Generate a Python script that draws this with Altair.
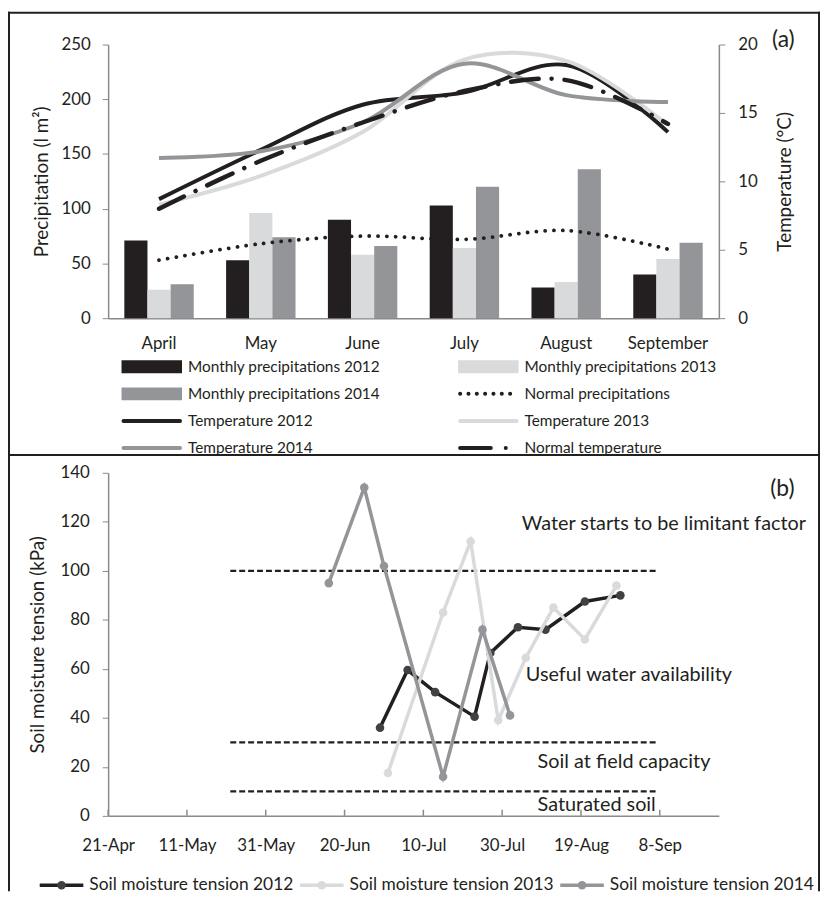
import altair as alt
import pandas as pd

# ---------------- panel (a) data ----------------
months = ["April", "May", "June", "July", "August", "September"]
precip_series = ["Monthly precipitations 2012", "Monthly precipitations 2013", "Monthly precipitations 2014"]
precip_2012 = [71, 53, 90, 103, 28, 40]
precip_2013 = [26, 96, 58, 64, 33, 54]
precip_2014 = [31, 74, 66, 120, 136, 69]
precip_normal = [53, 68, 75, 72, 80, 63]
temp_series = ["Temperature 2012", "Temperature 2013", "Temperature 2014"]
temp_2012 = [8.7, 12.3, 15.6, 16.5, 18.5, 13.6]
temp_2013 = [8.3, 10.4, 13.6, 18.9, 18.8, 14.1]
temp_2014 = [11.7, 12.2, 14.3, 18.6, 16.3, 15.8]
temp_normal = [8.0, 11.5, 14.3, 16.6, 17.4, 14.2]
precip_ticks = [0, 50, 100, 150, 200, 250]
temp_ticks = [0, 5, 10, 15, 20]

legend_a_labels = ["Monthly precipitations 2012", "Monthly precipitations 2013",
                   "Monthly precipitations 2014", "Normal precipitations",
                   "Temperature 2012", "Temperature 2013",
                   "Temperature 2014", "Normal temperature"]
legend_a_kinds = ["bar", "bar", "bar", "dot", "solid", "solid", "solid", "dashdot"]

# ---------------- panel (b) data ----------------
soil_series = ["Soil moisture tension 2012", "Soil moisture tension 2013", "Soil moisture tension 2014"]
soil_dates_2012 = ["2001-06-29", "2001-07-06", "2001-07-13", "2001-07-23", "2001-07-27",
                   "2001-08-03", "2001-08-10", "2001-08-20", "2001-08-29"]
soil_2012 = [36, 59.5, 50.5, 40.5, 66.5, 77, 76, 87.5, 90]
soil_dates_2013 = ["2001-07-01", "2001-07-15", "2001-07-22", "2001-07-29",
                   "2001-08-05", "2001-08-12", "2001-08-20", "2001-08-28"]
soil_2013 = [17.5, 83, 112, 39, 64.5, 85, 72, 94]
soil_dates_2014 = ["2001-06-16", "2001-06-25", "2001-06-30", "2001-07-15", "2001-07-25", "2001-08-01"]
soil_2014 = [95, 134, 102, 16, 76, 41]
thresholds = [100, 30, 10]
threshold_start = "2001-05-22"
threshold_end = "2001-09-07"
zone_labels = ["Water starts to be limitant factor", "Useful water availability",
               "Soil at field capacity", "Saturated soil"]
zone_dates = ["2001-08-04", "2001-08-05", "2001-08-08", "2001-08-08"]
zone_values = [119, 57.5, 22, 4.6]
date_ticks = ["2001-04-21", "2001-05-11", "2001-05-31", "2001-06-20",
              "2001-07-10", "2001-07-30", "2001-08-19", "2001-09-08"]
date_domain = ["2001-04-21", "2001-09-23"]
tension_ticks = [0, 20, 40, 60, 80, 100, 120, 140]

# ---------------- style ----------------
FONT = "Lato"
C_BLACK = "#231f20"
C_LIGHT = "#d9dadb"
C_MID = "#939598"
C_MARK12 = "#414042"
C_AXIS = "#8a8a8a"
TXT = "#231f20"
W = 616
HA = 276
HB = 346
LEG_A_H = 156
LEG_B_H = 72
FL, FR = -101, 718     # outer edges of the frame, relative to the plot area
LW = 2                 # frame line width


def dt(s):
    y, m, d = (int(v) for v in s.split("-"))
    return alt.DateTime(year=y, month=m, date=d, utc=True)


def frame_bar(x0, x1, y0, y1):
    return alt.Chart(pd.DataFrame({"frame": [1]})).mark_rect(color=C_BLACK).encode(
        x=alt.value(x0), x2=alt.value(x1), y=alt.value(y0), y2=alt.value(y1))


# ================= panel (a) =================
x_month = alt.X("month:N", sort=months, title=None,
                scale=alt.Scale(domain=months, paddingInner=0.318, paddingOuter=0.159),
                axis=alt.Axis(labelAngle=0, ticks=False, labelPadding=18, labelFontSize=17,
                              domainColor=C_AXIS, domainWidth=1.5))
y_precip = alt.Y("precip:Q", scale=alt.Scale(domain=[0, 250], nice=False),
                 axis=alt.Axis(values=precip_ticks, title="Precipitation (l m²)", orient="left",
                               tickSize=6, labelPadding=12, titlePadding=10, labelFontSize=17,
                               titleFontSize=19, domainColor=C_AXIS, tickColor=C_AXIS,
                               domainWidth=1.5))
y_temp = alt.Y("temp:Q", scale=alt.Scale(domain=[0, 20], nice=False),
               axis=alt.Axis(values=temp_ticks, title="Temperature (°C)", orient="right",
                             titleAngle=270, titleX=66, titleBaseline="middle",
                             tickSize=6, labelPadding=13,
                             labelFontSize=17, titleFontSize=19, domainColor=C_AXIS,
                             tickColor=C_AXIS, domainWidth=1.5))

bar_df = pd.DataFrame({
    "month": months * 3,
    "series": [s for s in precip_series for _ in months],
    "precip": precip_2012 + precip_2013 + precip_2014,
})
bars = alt.Chart(bar_df).mark_bar().encode(
    x=x_month,
    xOffset=alt.XOffset("series:N", sort=precip_series,
                        scale=alt.Scale(paddingInner=0, paddingOuter=0)),
    y=y_precip,
    color=alt.Color("series:N", scale=alt.Scale(domain=precip_series,
                                                range=[C_BLACK, C_LIGHT, C_MID]), legend=None),
)
pn = alt.Chart(pd.DataFrame({"month": months, "precip": precip_normal})).mark_line(
    interpolate="catmull-rom", color=C_BLACK, strokeWidth=3.8, strokeDash=[0.1, 8.8],
    strokeCap="round").encode(x=x_month, y=y_precip)
left = alt.layer(bars, pn)

t_df = pd.DataFrame({
    "month": months * 3,
    "series": [s for s in temp_series for _ in months],
    "temp": temp_2012 + temp_2013 + temp_2014,
})
tl = alt.Chart(t_df).mark_line(interpolate="catmull-rom", strokeWidth=4).encode(
    x=x_month, y=y_temp,
    color=alt.Color("series:N", scale=alt.Scale(domain=temp_series,
                                                range=[C_BLACK, C_LIGHT, C_MID]), legend=None),
)
tn = alt.Chart(pd.DataFrame({"month": months, "temp": temp_normal})).mark_line(
    interpolate="catmull-rom", color=C_BLACK, strokeWidth=4.5, strokeDash=[28, 13, 0.1, 13],
    strokeCap="round").encode(x=x_month, y=y_temp)
right = alt.layer(tl, tn)

tag_a = alt.Chart(pd.DataFrame({"tag": ["(a)"]})).mark_text(
    font=FONT, fontSize=23, color=TXT, align="center", baseline="middle").encode(
    x=alt.value(681), y=alt.value(-4), text="tag:N")

A_TOP = -33
A_BOT = HA + LEG_A_H - 19
frame_a = [
    frame_bar(FL, FR, A_TOP, A_TOP + LW),
    frame_bar(FL, FR, A_BOT, A_BOT + LW),
    frame_bar(FL, FL + LW, A_TOP, A_BOT + LW),
    frame_bar(FR - LW, FR, A_TOP, A_BOT + LW),
]

panel_a = alt.layer(left, right, tag_a, *frame_a).resolve_scale(
    y="independent", color="independent").properties(width=W, height=HA)

# ---------- legend (a) ----------
COL_A = 339.5
leg_a = pd.DataFrame({"label": legend_a_labels, "kind": legend_a_kinds})
leg_a["col"] = [i % 2 for i in range(len(leg_a))]
leg_a["row"] = [i // 2 for i in range(len(leg_a))]
leg_a["x0"] = leg_a["col"]
leg_a["x1"] = leg_a["col"] + 61 / COL_A
leg_a["xl0"] = leg_a["col"] + 2 / COL_A
leg_a["xl1"] = leg_a["col"] + 59 / COL_A
leg_a["xt"] = leg_a["col"] + 67 / COL_A
leg_colors = [C_BLACK, C_LIGHT, C_MID, C_BLACK, C_BLACK, C_LIGHT, C_MID, C_BLACK]
lx = alt.Scale(domain=[0, 1], range=[13.5, 13.5 + COL_A])
ly = alt.Scale(domain=[0, 3], range=[49, 131])
lcol = alt.Color("label:N", scale=alt.Scale(domain=legend_a_labels, range=leg_colors), legend=None)

leg_bar = alt.Chart(leg_a).transform_filter(alt.datum.kind == "bar").mark_rule(
    strokeWidth=13, strokeCap="butt").encode(
    x=alt.X("x0:Q", scale=lx, axis=None), x2="x1:Q",
    y=alt.Y("row:Q", scale=ly, axis=None), color=lcol)
leg_line = alt.Chart(leg_a).transform_filter(alt.datum.kind != "bar").mark_rule(
    strokeWidth=4, strokeCap="round").encode(
    x=alt.X("xl0:Q", scale=lx, axis=None), x2="xl1:Q",
    y=alt.Y("row:Q", scale=ly, axis=None), color=lcol,
    strokeDash=alt.StrokeDash("kind:N", scale=alt.Scale(
        domain=["dot", "solid", "dashdot"],
        range=[[0.1, 8.3], [1, 0], [31, 15, 0.1, 40]]), legend=None))
leg_text = alt.Chart(leg_a).mark_text(
    font=FONT, fontSize=15.5, color=TXT, align="left", baseline="middle").encode(
    x=alt.X("xt:Q", scale=lx, axis=None), y=alt.Y("row:Q", scale=ly, axis=None), text="label:N")
legend_a = alt.layer(leg_bar, leg_line, leg_text).properties(width=W, height=LEG_A_H)

# ================= panel (b) =================
x_date_scale = alt.Scale(type="utc", domain=[dt(date_domain[0]), dt(date_domain[1])])
x_axis_b = alt.Axis(values=[dt(d) for d in date_ticks], format="%-d-%b", ticks=False,
                    labelOverlap=False, labelFlush=False, labelPadding=22, labelFontSize=17,
                    grid=False, domainColor=C_AXIS, domainWidth=1.5)


def xd(field):
    return alt.X(field, title=None, scale=x_date_scale, axis=x_axis_b)


y_tension = alt.Y("tension:Q", scale=alt.Scale(domain=[0, 140], nice=False),
                  axis=alt.Axis(values=tension_ticks, title="Soil moisture tension (kPa)",
                                tickSize=6, labelPadding=13, titlePadding=13, labelFontSize=17,
                                titleFontSize=19, domainColor=C_AXIS, tickColor=C_AXIS,
                                domainWidth=1.5))

tick_b = alt.Chart(pd.DataFrame({"date": date_ticks})).mark_rule(
    color=C_AXIS, strokeWidth=1.5).encode(x=xd("date:T"), y=alt.datum(0), y2=alt.datum(2.5))

thr_df = pd.DataFrame({"start": [threshold_start] * len(thresholds),
                       "end": [threshold_end] * len(thresholds), "tension": thresholds})
thr = alt.Chart(thr_df).mark_rule(color=C_BLACK, strokeWidth=2.2, strokeDash=[6, 3]).encode(
    x=xd("start:T"), x2="end:T", y=y_tension)


def soil_layer(dates, vals, line_color, point_color):
    df = pd.DataFrame({"date": dates, "tension": vals})
    return alt.Chart(df).mark_line(
        color=line_color, strokeWidth=3.5,
        point=alt.OverlayMarkDef(filled=True, color=point_color, size=75, opacity=1)).encode(
        x=xd("date:T"), y=y_tension)


l12 = soil_layer(soil_dates_2012, soil_2012, C_BLACK, C_MARK12)
l13 = soil_layer(soil_dates_2013, soil_2013, C_LIGHT, C_LIGHT)
l14 = soil_layer(soil_dates_2014, soil_2014, C_MID, C_MID)

zone_df = pd.DataFrame({"label": zone_labels, "date": zone_dates, "tension": zone_values})
zones = alt.Chart(zone_df).mark_text(
    font=FONT, fontSize=20, color=TXT, align="left", baseline="middle").encode(
    x=xd("date:T"), y=y_tension, text="label:N")

tag_b = alt.Chart(pd.DataFrame({"tag": ["(b)"]})).mark_text(
    font=FONT, fontSize=23, color=TXT, align="center", baseline="middle").encode(
    x=alt.value(680), y=alt.value(16), text="tag:N")

panel_b = alt.layer(tick_b, thr, l12, l13, l14, zones, tag_b).properties(width=W, height=HB)

# ---------- legend (b) ----------
STEP_B = 262.5
soil_line_colors = [C_BLACK, C_LIGHT, C_MID]
soil_mark_colors = [C_MARK12, C_LIGHT, C_MID]
leg_b = pd.DataFrame({"label": soil_series})
leg_b["slot"] = list(range(len(leg_b)))
leg_b["x0"] = leg_b["slot"]
leg_b["x1"] = leg_b["slot"] + 44 / STEP_B
leg_b["xm"] = leg_b["slot"] + 22 / STEP_B
leg_b["xt"] = leg_b["slot"] + 50 / STEP_B
bx = alt.Scale(domain=[0, 2], range=[-69, -69 + 2 * STEP_B])
LB_Y = 70
lb_line = alt.Chart(leg_b).mark_rule(strokeWidth=3.5).encode(
    x=alt.X("x0:Q", scale=bx, axis=None), x2="x1:Q", y=alt.value(LB_Y),
    color=alt.Color("label:N", scale=alt.Scale(domain=soil_series, range=soil_line_colors),
                    legend=None))
lb_pt = alt.Chart(leg_b).mark_circle(size=75, opacity=1).encode(
    x=alt.X("xm:Q", scale=bx, axis=None), y=alt.value(LB_Y),
    fill=alt.Fill("label:N", scale=alt.Scale(domain=soil_series, range=soil_mark_colors),
                  legend=None))
lb_text = alt.Chart(leg_b).mark_text(
    font=FONT, fontSize=17.5, color=TXT, align="left", baseline="middle").encode(
    x=alt.X("xt:Q", scale=bx, axis=None), y=alt.value(LB_Y), text="label:N")
B_TOP = -HB - 18
frame_b = [
    frame_bar(FL, FL + LW, B_TOP, LEG_B_H + 4),
    frame_bar(FR - LW, FR, B_TOP, LEG_B_H + 4),
]
legend_b = alt.layer(lb_line, lb_pt, lb_text, *frame_b).properties(width=W, height=LEG_B_H)

chart = alt.vconcat(panel_a, legend_a, panel_b, legend_b, spacing=0, bounds="flush").resolve_scale(
    x="independent", y="independent", color="independent"
).properties(padding=0).configure(font=FONT).configure_view(strokeWidth=0).configure_axis(
    labelFont=FONT, titleFont=FONT, labelColor=TXT, titleColor=TXT, titleFontWeight="normal",
    grid=False)

chart.save("out.html", embed_options={"renderer": "svg", "actions": False})
